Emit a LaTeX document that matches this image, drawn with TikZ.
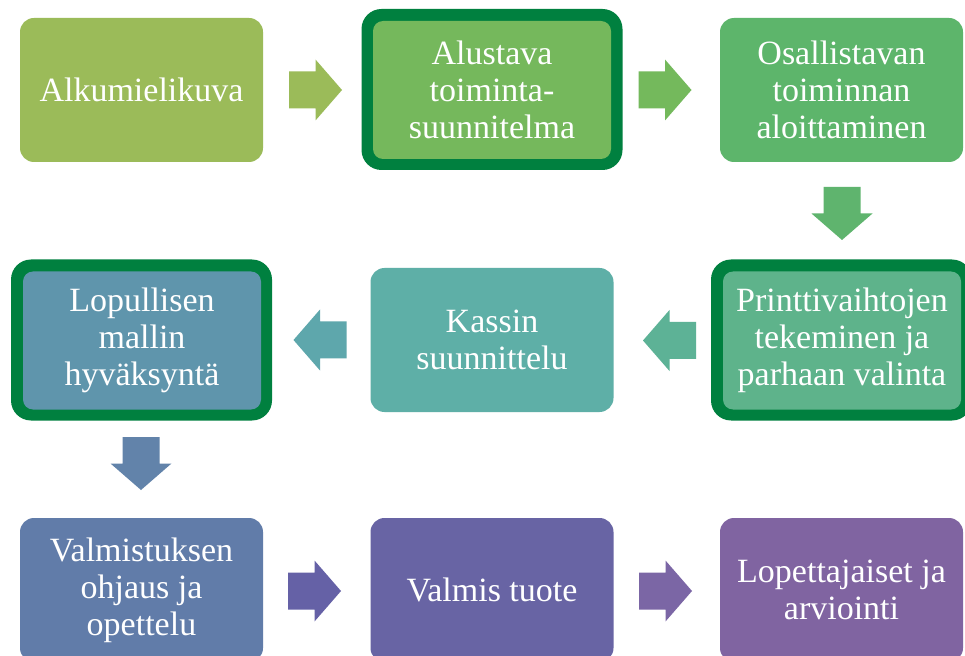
\documentclass[tikz,border=0pt]{standalone}
\usepackage{fontspec}
\setmainfont{Liberation Serif}
\definecolor{cA}{HTML}{9BBB59}
\definecolor{cB}{HTML}{75B85C}
\definecolor{cC}{HTML}{5DB56B}
\definecolor{cD}{HTML}{5EB38B}
\definecolor{cE}{HTML}{5EAFA7}
\definecolor{cF}{HTML}{5F95AC}
\definecolor{cG}{HTML}{617CA9}
\definecolor{cH}{HTML}{6864A4}
\definecolor{cI}{HTML}{8064A1}
\definecolor{dkgreen}{HTML}{00803F}
\definecolor{aA}{HTML}{9BBB59}
\definecolor{aB}{HTML}{74B95C}
\definecolor{aC}{HTML}{5FB46E}
\definecolor{aD}{HTML}{5DB296}
\definecolor{aE}{HTML}{5EA7AC}
\definecolor{aF}{HTML}{6283AA}
\definecolor{aG}{HTML}{6561A6}
\definecolor{aH}{HTML}{7B66A5}
\newcommand\blockarrow[4]{%
  \fill[#4, shift={(#1,#2)}, rotate=#3]
    (-26.5,-18.5) -- (0,-18.5) -- (0,-30.5) -- (26.5,0) -- (0,30.5) -- (0,18.5) -- (-26.5,18.5) -- cycle;}
\begin{document}
\begin{tikzpicture}[x=0.75pt,y=-0.75pt,
  box/.style={rounded corners=10.5pt, minimum width=182.25pt, minimum height=108pt,
    inner sep=0pt, text=white, align=center,
    font=\fontsize{25.5}{27.75}\selectfont},
  outerbox/.style={rounded corners=15pt, minimum width=195.75pt, minimum height=120.75pt,
    inner sep=0pt, fill=dkgreen},
  innerbox/.style={box, rounded corners=7.5pt, minimum width=178.5pt, minimum height=103.5pt}]
\path[use as bounding box, clip] (0,0) rectangle (965,656);
\fill[white] (0,0) rectangle (965,656);
% row 1
\node[box, fill=cA] (b1) at (141.5,90) {Alkumielikuva};
\node[outerbox] (b2o) at (492,89.5) {};
\node[innerbox, fill=cB] (b2) at (492,90) {Alustava\\toiminta-\\suunnitelma};
\node[box, fill=cC] (b3) at (841.5,90) {Osallistavan\\toiminnan\\aloittaminen};
% row 2
\node[outerbox] (b6o) at (841.5,340) {};
\node[innerbox, fill=cD] (b6) at (842,340.5) {Printtivaihtojen\\tekeminen ja\\parhaan valinta};
\node[box, fill=cE] (b5) at (492,340) {Kassin\\suunnittelu};
\node[outerbox] (b4o) at (141.5,340) {};
\node[innerbox, fill=cF] (b4) at (142,340.5) {Lopullisen\\mallin\\hyväksyntä};
% row 3
\node[box, fill=cG] (b7) at (141.5,590) {Valmistuksen\\ohjaus ja\\opettelu};
\node[box, fill=cH] (b8) at (492,590) {Valmis tuote};
\node[box, fill=cI] (b9) at (841.5,590) {Lopettajaiset ja\\arviointi};
% block arrows
\blockarrow{315.5}{90}{0}{aA}
\blockarrow{665}{90}{0}{aB}
\blockarrow{842}{213.5}{-90}{aC}
\blockarrow{669.5}{340.5}{180}{aD}
\blockarrow{320}{340}{180}{aE}
\blockarrow{141}{463.5}{-90}{aF}
\blockarrow{314.5}{591}{0}{aG}
\blockarrow{665.5}{591}{0}{aH}
\end{tikzpicture}
\end{document}
